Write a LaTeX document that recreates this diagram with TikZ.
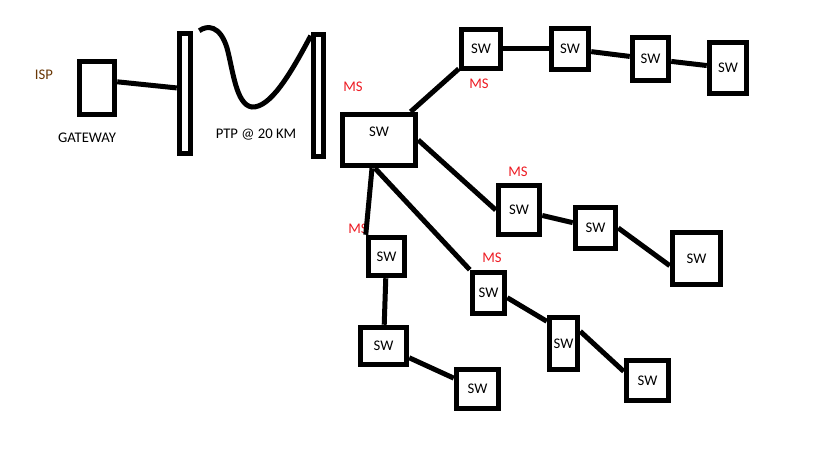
\documentclass[tikz,border=0pt]{standalone}
\usepackage{fontspec}
\setmainfont{Carlito}
\usepackage{xcolor}
\usetikzlibrary{positioning}

\definecolor{msred}{RGB}{237,28,36}
\definecolor{ispbrown}{RGB}{105,55,5}

\begin{document}
\begin{tikzpicture}[
    x=1pt, y=-1pt,
    font=\fontsize{14.7}{17}\selectfont,
    sw/.style={draw, rectangle, line width=5pt, inner sep=0pt, align=center},
    bar/.style={draw, rectangle, line width=5pt, inner sep=0pt},
    link/.style={line width=5pt},
    ms/.style={text=msred, inner sep=0pt},
    txt/.style={inner sep=0pt}
]
\useasboundingbox (0,0) rectangle (819,460);

% gateway side
\node[sw, minimum width=35.5pt, minimum height=53.5pt] (gw) at (97,88) {};
\node[txt, text=ispbrown] (isp) at (44,75) {ISP};
\node[txt] (gwtext) at (87,138) {GATEWAY};

% point to point link
\node[bar, minimum width=11.5pt, minimum height=120.5pt] (lbar) at (185,93.5) {};
\node[bar, minimum width=10.5pt, minimum height=122.5pt] (rbar) at (318.5,95.5) {};
\node[txt] (ptp) at (256,135) {PTP @ 20 KM};

\draw[link] (gw.17) -- (lbar.146);
\draw[link] ([xshift=6pt]lbar.north east) .. controls (207,25) and (220,25) .. (227,48)
    .. controls (233,70) and (236,105) .. (252,107)
    .. controls (270,108) and (290,75) .. ([yshift=-4pt]rbar.north west);

% main switch
\node[sw, minimum width=73.5pt, minimum height=51.5pt, text depth=16pt] (main) at (379,140) {SW};

% top chain
\node[sw, minimum width=39.5pt, minimum height=39.5pt] (sw1) at (481,49) {SW};
\node[sw, minimum width=37.5pt, minimum height=41.5pt] (sw2) at (570,49) {SW};
\node[sw, minimum width=36.5pt, minimum height=43.5pt] (sw3) at (650.5,59) {SW};
\node[sw, minimum width=37.5pt, minimum height=51.5pt] (sw4) at (728,68) {SW};

% right chain
\node[sw, minimum width=41.5pt, minimum height=49.5pt] (swa) at (519,210) {SW};
\node[sw, minimum width=40.5pt, minimum height=41.5pt] (swb) at (595.5,228) {SW};
\node[sw, minimum width=48.5pt, minimum height=52.5pt] (swc) at (696.5,258.5) {SW};

% lower left chain
\node[sw, minimum width=36.5pt, minimum height=38.5pt] (swd) at (386.5,256.5) {SW};
\node[sw, minimum width=46.5pt, minimum height=37.5pt] (swe) at (383.5,346) {SW};
\node[sw, minimum width=42.5pt, minimum height=39.5pt] (swf) at (477.5,389) {SW};

% middle chain
\node[sw, minimum width=32.5pt, minimum height=41.5pt] (swg) at (488.5,293) {SW};
\node[sw, minimum width=28.5pt, minimum height=52.5pt] (swh) at (563.5,343.5) {SW};
\node[sw, minimum width=42.5pt, minimum height=40.5pt] (swi) at (647.5,380.5) {SW};

% MS labels
\node[ms] (ms1) at (353,87) {MS};
\node[ms] (ms2) at (479,84) {MS};
\node[ms] (ms3) at (518,172) {MS};
\node[ms] (ms4) at (358,229) {MS};
\node[ms] (ms5) at (492,258) {MS};

\draw[link] (main) -- (sw1);
\draw[link] (sw1) -- (sw2);
\draw[link] (sw2) -- (sw3);
\draw[link] (sw3) -- (sw4);

\draw[link] (main.east) -- (swa.west);
\draw[link] (swa) -- (swb);
\draw[link] (swb.east) -- (swc.195);

\draw[link] ([xshift=-7pt]main.south) -- (swd.north west);
\draw[link] (swd) -- (swe);
\draw[link] (swe) -- (swf);

\draw[link] ([xshift=-4pt]main.south) -- (swg.north west);
\draw[link] (swg.-14) -- (swh.127);
\draw[link] (swh.36) -- (swi.159);

\end{tikzpicture}
\end{document}
